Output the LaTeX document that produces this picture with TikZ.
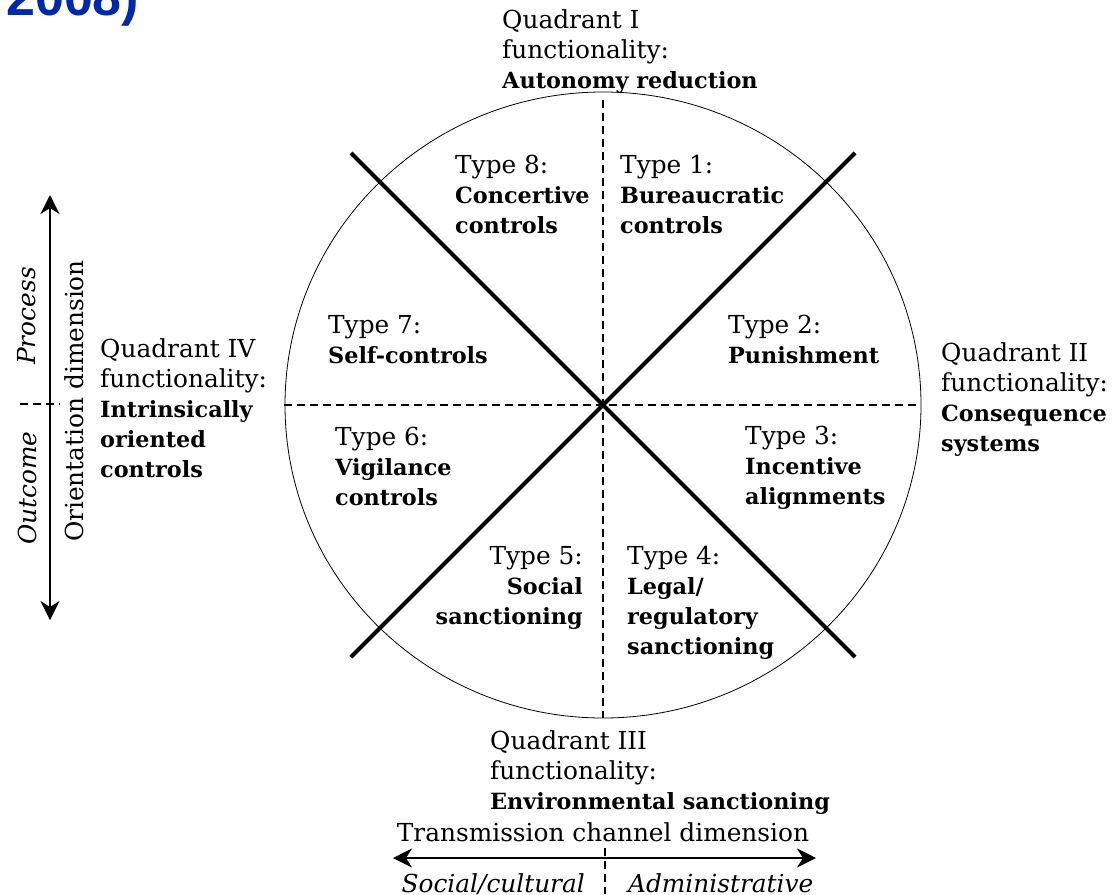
\documentclass[tikz,border=0pt]{standalone}
\usepackage{fontspec}
\setmainfont{DejaVu Serif}[BoldFeatures={Scale=0.9}]
\newfontfamily\headfont{Liberation Sans}
\usetikzlibrary{positioning,arrows.meta}
\definecolor{headblue}{RGB}{0,41,170}
\newcommand\wheelsize{\fontsize{24.8}{30}\selectfont}

\begin{document}
\begin{tikzpicture}[x=1pt, y=-1pt,
    txt/.style={inner sep=0pt, align=left, font=\wheelsize},
    divider/.style={line width=4pt},
    guide/.style={line width=1.5pt, dash pattern=on 8pt off 5pt},
    axis/.style={line width=1.8pt, {Stealth[length=19pt,width=19pt,inset=6pt]}-{Stealth[length=19pt,width=19pt,inset=6pt]}}]

    \useasboundingbox (0,0) rectangle (1116,894);

    % heading left over from the slide
    \node [anchor=base west, inner sep=0pt, text=headblue,
           font=\headfont\bfseries\fontsize{52}{60}\selectfont] (year) at (6,16) {2008)};

    %-----Wheel-----
    \coordinate (hub) at (603,405);
    \coordinate (nw) at (351,153);
    \coordinate (se) at (855,657);
    \coordinate (ne) at (855,153);
    \coordinate (sw) at (351,657);
    \coordinate (top) at (603,100);
    \coordinate (bot) at (603,718);
    \coordinate (lft) at (284,405);
    \coordinate (rgt) at (920,405);

    \draw [line width=0.8pt] (hub) ellipse (318 and 313);
    \draw [guide] (top) -- (bot);
    \draw [guide] (lft) -- (rgt);
    \draw [divider] (nw) -- (se);
    \draw [divider] (ne) -- (sw);

    %-----Quadrants-----
    % Quadrant I
    \node [txt, anchor=north west] (quad1) at (502,9) {%
        Quadrant I \\
        functionality: \\
        \textbf{Autonomy reduction}
    };

    % Quadrant II
    \node [txt, anchor=north west] (quad2) at (941,342) {%
        Quadrant II \\
        functionality: \\
        \textbf{Consequence} \\
        \textbf{systems}
    };

    % Quadrant III
    \node [txt, anchor=north west] (quad3) at (490,730) {%
        Quadrant III \\
        functionality: \\
        \textbf{Environmental sanctioning}
    };

    % Quadrant IV
    \node [txt, anchor=north west] (quad4) at (100,338) {%
        Quadrant IV \\
        functionality: \\
        \textbf{Intrinsically} \\
        \textbf{oriented} \\
        \textbf{controls}
    };

    %-----Types-----
    % Type 1
    \node [txt, anchor=north west] (type1) at (620,155) {%
        Type 1: \\
        \textbf{Bureaucratic} \\
        \textbf{controls}
    };

    % Type 2
    \node [txt, anchor=north west] (type2) at (728,315) {%
        Type 2: \\
        \textbf{Punishment}
    };

    % Type 3
    \node [txt, anchor=north west] (type3) at (745,426) {%
        Type 3: \\
        \textbf{Incentive} \\
        \textbf{alignments}
    };

    % Type 4
    \node [txt, anchor=north west] (type4) at (627,546) {%
        Type 4: \\
        \textbf{Legal/} \\
        \textbf{regulatory} \\
        \textbf{sanctioning}
    };

    % Type 5
    \node [txt, align=right, anchor=north east] (type5) at (583,546) {%
        Type 5: \\
        \textbf{Social} \\
        \textbf{sanctioning}
    };

    % Type 6
    \node [txt, anchor=north west] (type6) at (335,427) {%
        Type 6: \\
        \textbf{Vigilance} \\
        \textbf{controls}
    };

    % Type 7
    \node [txt, anchor=north west] (type7) at (328,315) {%
        Type 7: \\
        \textbf{Self-controls}
    };

    % Type 8
    \node [txt, anchor=north west] (type8) at (455,155) {%
        Type 8: \\
        \textbf{Concertive} \\
        \textbf{controls}
    };

    %-----Dimensions-----
    % Orientation dimension (left)
    \coordinate (orup) at (50,195);
    \coordinate (ordn) at (50,620);
    \coordinate (ortl) at (20,404);
    \coordinate (ortr) at (60,404);
    \draw [axis] (orup) -- (ordn);
    \draw [guide] (ortl) -- (ortr);
    \node [txt, rotate=90, font=\wheelsize\itshape] (proc) at (27,316) {Process};
    \node [txt, rotate=90, font=\wheelsize\itshape] (outc) at (27,488) {Outcome};
    \node [txt, rotate=90] (orient) at (74,401) {Orientation dimension};

    % Transmission channel dimension (bottom)
    \coordinate (trlf) at (393,858);
    \coordinate (trrt) at (816,858);
    \coordinate (trtp) at (605,848);
    \coordinate (trbt) at (605,894);
    \node [txt, anchor=base] (trans) at (603,841) {Transmission channel dimension};
    \draw [axis] (trlf) -- (trrt);
    \draw [guide] (trtp) -- (trbt);
    \node [txt, anchor=base east, font=\wheelsize\itshape] (social) at (585,892) {Social/cultural};
    \node [txt, anchor=base west, font=\wheelsize\itshape] (admin) at (628,892) {Administrative};

\end{tikzpicture}
\end{document}
